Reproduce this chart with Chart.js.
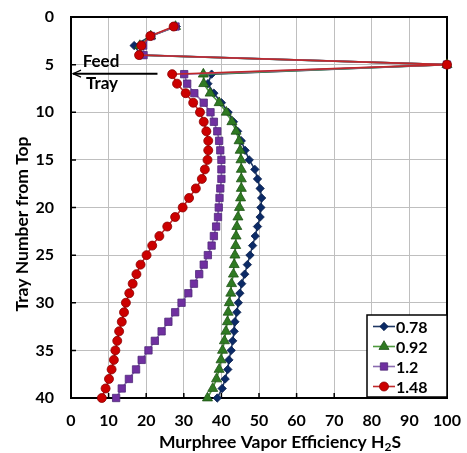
<!DOCTYPE html>
<html>
<head>
<meta charset="utf-8">
<script src="https://cdn.jsdelivr.net/npm/chart.js@4.4.1/dist/chart.umd.min.js"></script>
<style>
  html, body { margin: 0; padding: 0; background: #ffffff; }
  #wrap { width: 467px; height: 453px; position: relative; }
</style>
</head>
<body>
<div id="wrap"><canvas id="c" width="467" height="453"></canvas></div>
<script>
// Tray numbers counted from the top of the column
const trays = [1, 2, 3, 4, 5, 6, 7, 8, 9, 10,
               11, 12, 13, 14, 15, 16, 17, 18, 19, 20,
               21, 22, 23, 24, 25, 26, 27, 28, 29, 30,
               31, 32, 33, 34, 35, 36, 37, 38, 39, 40];

// Murphree vapor efficiency of H2S (%) per tray, one list per case
const eff078 = [28.0, 21.3, 16.8, 18.6, 100,
                37.4, 36.4, 38.0, 40.0, 41.8, 43.2, 44.3, 45.3, 46.3, 47.4,
                48.9, 49.6, 50.3, 50.7, 50.5, 50.3, 49.6, 49.0, 48.3, 47.6,
                46.9, 46.2, 45.4, 44.9, 44.5, 44.1, 43.6, 43.4, 43.0, 42.6,
                42.0, 41.7, 41.0, 40.2, 38.9];
const eff092 = [27.8, 21.2, 18.3, 18.5, 100,
                35.2, 35.3, 37.0, 39.4, 41.3, 42.8, 43.9, 44.7, 45.0, 45.2,
                45.3, 45.3, 45.3, 45.1, 44.8, 44.4, 44.1, 43.9, 43.8, 43.6,
                43.4, 43.2, 42.7, 42.5, 42.1, 41.8, 41.6, 41.2, 40.8, 40.3,
                39.9, 39.4, 38.7, 37.7, 36.3];
const eff120 = [27.8, 21.3, 19.2, 19.3, 100,
                30.1, 30.9, 32.8, 35.3, 37.1, 38.0, 38.9, 39.4, 39.7, 40.0,
                40.0, 40.0, 39.7, 39.5, 39.3, 39.1, 38.6, 38.0, 37.4, 36.4,
                35.3, 34.1, 32.7, 31.2, 29.4, 27.7, 25.9, 24.1, 22.3, 20.6,
                18.8, 17.3, 15.4, 13.5, 12.0];
const eff148 = [27.3, 21.1, 18.7, 18.1, 100,
                26.9, 28.2, 30.5, 32.5, 34.3, 35.3, 36.0, 36.5, 36.5, 36.3,
                35.6, 34.8, 33.2, 31.4, 29.7, 27.7, 25.6, 23.5, 21.6, 20.1,
                18.5, 17.4, 16.4, 15.5, 14.6, 14.1, 13.5, 12.8, 12.3, 11.8,
                11.4, 10.8, 10.1, 9.2, 8.2];

const seriesNames = ['0.78', '0.92', '1.2', '1.48'];
const xTickValues = [0, 10, 20, 30, 40, 50, 60, 70, 80, 90, 100];
const yTickValues = [0, 5, 10, 15, 20, 25, 30, 35, 40];

const xTitleMain = 'Murphree Vapor Efficiency H';
const xTitleSub = '2';
const xTitleEnd = 'S';
const yTitle = 'Tray Number from Top';
const feedLabel = ['Feed', 'Tray'];
const feedTray = 6;

const FONT = 'Lato, "Open Sans", sans-serif';

function pairs(values) {
  return values.map((v, i) => ({ x: v, y: trays[i] }));
}

const styles = [
  { line: '#1F3864', fill: '#0B2A66', border: '#0A1F4D', shape: 'rectRot', r: 4.2 },
  { line: '#4E9A3E', fill: '#2F7A22', border: '#1E5216', shape: 'triangle', r: 5.8 },
  { line: '#8A6BB0', fill: '#7030A0', border: '#4F2A78', shape: 'rect', r: 5.2 },
  { line: '#C0282A', fill: '#CC0000', border: '#8B0000', shape: 'circle', r: 4.5 }
];
const allValues = [eff078, eff092, eff120, eff148];

const datasets = allValues.map((vals, i) => ({
  label: seriesNames[i],
  data: pairs(vals),
  showLine: true,
  borderColor: styles[i].line,
  borderWidth: 1.6,
  pointStyle: styles[i].shape,
  pointRadius: styles[i].r,
  pointBackgroundColor: styles[i].fill,
  pointBorderColor: styles[i].border,
  pointBorderWidth: 0.8,
  order: 3 - i,
  clip: 10
}));

// Plot frame, inward tick marks, legend box, feed arrow and axis titles
const decorations = {
  id: 'decorations',
  beforeDatasetsDraw(chart) {
    const { ctx, chartArea: a } = chart;
    ctx.save();
    ctx.strokeStyle = '#000';
    ctx.lineWidth = 2;
    ctx.strokeRect(a.left, a.top, a.right - a.left, a.bottom - a.top);
    ctx.lineWidth = 1.5;
    const xs = chart.scales.x, ys = chart.scales.y;
    ctx.beginPath();
    xTickValues.forEach(v => {
      const px = xs.getPixelForValue(v);
      ctx.moveTo(px, a.bottom);
      ctx.lineTo(px, a.bottom - 5);
    });
    yTickValues.forEach(v => {
      const py = ys.getPixelForValue(v);
      ctx.moveTo(a.left, py);
      ctx.lineTo(a.left + 5, py);
    });
    ctx.stroke();
    ctx.restore();
  },
  afterDatasetsDraw(chart) {
    const { ctx, chartArea: a } = chart;
    const xs = chart.scales.x, ys = chart.scales.y;
    ctx.save();

    // legend
    const bw = 80, bh = 82;
    const bx = a.right - bw, by = a.bottom - 1 - bh;
    ctx.fillStyle = '#fff';
    ctx.fillRect(bx, by, bw, bh);
    ctx.strokeStyle = '#000';
    ctx.lineWidth = 1.5;
    ctx.strokeRect(bx, by, bw, bh);
    ctx.font = 'bold 16px ' + FONT;
    ctx.textBaseline = 'middle';
    ctx.textAlign = 'left';
    seriesNames.forEach((name, i) => {
      const yy = by + 11.5 + i * 20;
      const st = styles[i];
      ctx.strokeStyle = st.line;
      ctx.lineWidth = 1.6;
      ctx.beginPath();
      ctx.moveTo(bx + 6, yy);
      ctx.lineTo(bx + 28, yy);
      ctx.stroke();
      ctx.fillStyle = st.fill;
      ctx.strokeStyle = st.border;
      ctx.lineWidth = 0.8;
      Chart.helpers.drawPoint(ctx, { pointStyle: st.shape, radius: st.r, rotation: 0, borderWidth: 0.8 }, bx + 17, yy);
      ctx.fillStyle = '#000';
      ctx.fillText(name, bx + 29, yy + 1);
    });

    // feed tray arrow
    const fy = ys.getPixelForValue(feedTray) - 0.5;
    const x0 = xs.getPixelForValue(0) + 2;
    const x1 = xs.getPixelForValue(23);
    ctx.strokeStyle = '#000';
    ctx.lineWidth = 2;
    ctx.beginPath();
    ctx.moveTo(x1, fy);
    ctx.lineTo(x0, fy);
    ctx.stroke();
    ctx.lineWidth = 1.2;
    ctx.beginPath();
    ctx.moveTo(x0 + 8, fy - 3.5);
    ctx.lineTo(x0, fy);
    ctx.lineTo(x0 + 8, fy + 3.5);
    ctx.stroke();
    ctx.fillStyle = '#000';
    ctx.font = 'bold 17px ' + FONT;
    ctx.textAlign = 'center';
    ctx.textBaseline = 'middle';
    ctx.fillText(feedLabel[0], a.left + 30, fy - 12);
    ctx.fillText(feedLabel[1], a.left + 31, fy + 10);

    // x axis title with subscript
    const mainFont = 'bold 17.5px ' + FONT;
    const subFont = 'bold 12px ' + FONT;
    ctx.font = mainFont;
    ctx.textAlign = 'left';
    ctx.textBaseline = 'middle';
    const wMain = ctx.measureText(xTitleMain).width;
    const wEnd = ctx.measureText(xTitleEnd).width;
    ctx.font = subFont;
    const wSub = ctx.measureText(xTitleSub).width;
    const total = wMain + wSub + wEnd;
    const cx = 280, cy = 442;
    let tx = cx - total / 2;
    ctx.font = mainFont;
    ctx.fillText(xTitleMain, tx, cy);
    tx += wMain;
    ctx.font = subFont;
    ctx.fillText(xTitleSub, tx, cy + 5);
    tx += wSub;
    ctx.font = mainFont;
    ctx.fillText(xTitleEnd, tx, cy);

    // y axis title
    ctx.translate(22, 224);
    ctx.rotate(-Math.PI / 2);
    ctx.textAlign = 'center';
    ctx.fillText(yTitle, 0, 0);
    ctx.restore();
  }
};

new Chart(document.getElementById('c'), {
  type: 'scatter',
  data: { datasets },
  options: {
    responsive: false,
    animation: false,
    devicePixelRatio: 1,
    layout: { padding: { top: 17, right: 20, left: 0, bottom: 0 } },
    plugins: { legend: { display: false }, tooltip: { enabled: false } },
    scales: {
      x: {
        type: 'linear', min: 0, max: 100,
        afterFit(scale) {
          scale.height = 55;
          scale.paddingLeft = 0; scale.paddingRight = 0;
        },
        afterBuildTicks(scale) { scale.ticks = xTickValues.map(v => ({ value: v })); },
        grid: { color: '#BFBFBF', lineWidth: 1, drawTicks: false },
        border: { display: false },
        ticks: { color: '#000', padding: 13, maxRotation: 0, font: { family: FONT, size: 16, weight: 'bold' } }
      },
      y: {
        type: 'linear', min: 0, max: 40, reverse: true,
        afterFit(scale) {
          scale.width = 71;
          scale.paddingTop = 0; scale.paddingBottom = 0;
        },
        afterBuildTicks(scale) { scale.ticks = yTickValues.map(v => ({ value: v })); },
        grid: { color: '#BFBFBF', lineWidth: 1, drawTicks: false },
        border: { display: false },
        ticks: { color: '#000', padding: 17, font: { family: FONT, size: 16, weight: 'bold' } }
      }
    }
  },
  plugins: [decorations]
});
</script>
</body>
</html>
